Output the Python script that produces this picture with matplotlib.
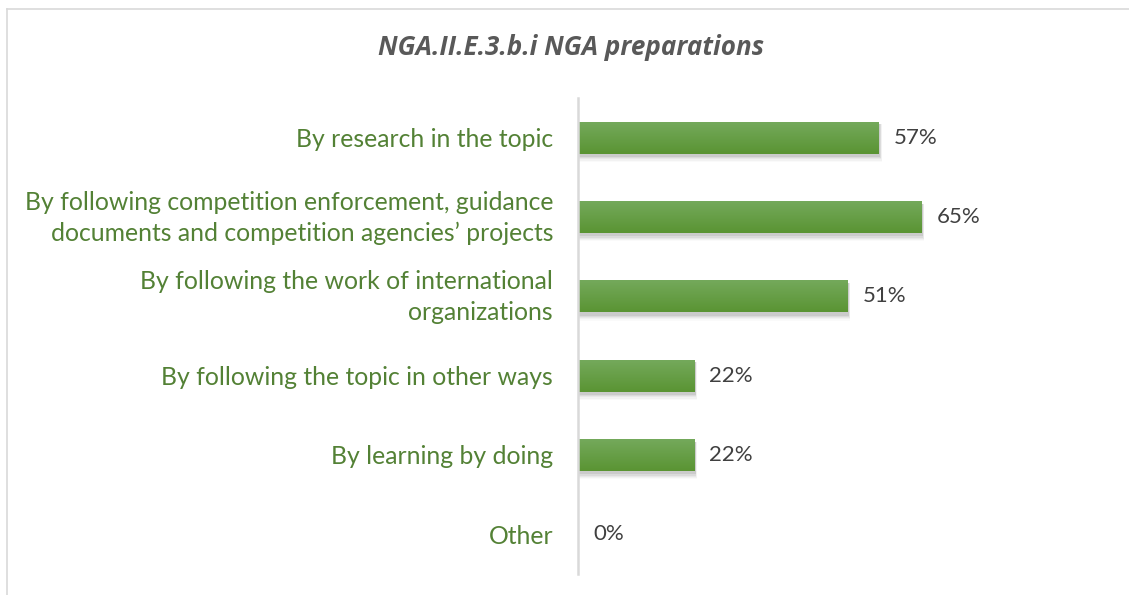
import numpy as np
import matplotlib
matplotlib.use("Agg")
import matplotlib.pyplot as plt
import matplotlib.transforms as mtransforms
from matplotlib.colors import LinearSegmentedColormap
from matplotlib.lines import Line2D
from matplotlib.patches import Rectangle

categories = [
    "By research in the topic",
    "By following competition enforcement, guidance\ndocuments and competition agencies\u2019 projects",
    "By following the work of international\norganizations",
    "By following the topic in other ways",
    "By learning by doing",
    "Other",
]
values = [57, 65, 51, 22, 22, 0]
title = "NGA.II.E.3.b.i NGA preparations"

plt.rcParams["font.family"] = ["Lato", "DejaVu Sans"]

fig = plt.figure(figsize=(11.29, 5.95), dpi=100)
ax = fig.add_axes([0.512, 0.0353, 0.4677, 0.8])

ypos = np.arange(len(categories))
bar_h = 0.4
grad = LinearSegmentedColormap.from_list("g", ["#74a95b", "#5a9433"])
gimg = np.linspace(0, 1, 64).reshape(-1, 1)

for y, v in zip(ypos, values):
    if v > 0:
        # soft drop shadow beneath the bar
        for k, a in enumerate([0.07, 0.05, 0.04, 0.03, 0.02]):
            d = 0.015 * (k + 1)
            ax.add_patch(Rectangle((0, y - bar_h / 2 + 0.03), v + 0.2 + d * 5,
                                   bar_h + d, facecolor="#000000", alpha=a,
                                   edgecolor="none", zorder=1))
        ax.imshow(gimg, cmap=grad, aspect="auto", interpolation="bicubic",
                  extent=(0, v, y + bar_h / 2, y - bar_h / 2), zorder=2)
    ax.text(v + 2.85, y, f"{v}%", va="center", ha="left",
            fontsize=16, color="#404040")

ax.set_xlim(0, 100)
ax.set_ylim(len(categories) - 0.5, -0.5)
ax.set_yticks(ypos)
ax.set_yticklabels(categories, fontsize=17.8, color="#538135",
                   linespacing=1.42)
ax.tick_params(axis="y", length=0, pad=18)
# nudge two-line labels up so both lines sit evenly around the bar
lift = mtransforms.ScaledTranslation(0, 5 / 100, fig.dpi_scale_trans)
for lbl in ax.get_yticklabels():
    if "\n" in lbl.get_text():
        lbl.set_transform(lbl.get_transform() + lift)
ax.set_xticks([])
for s in ["top", "right", "bottom"]:
    ax.spines[s].set_visible(False)
ax.spines["left"].set_color("#d9d9d9")
ax.spines["left"].set_linewidth(1.8)
ax.patch.set_alpha(0)

fig.text(0.506, 0.921, title, ha="center", va="center", fontsize=18.7,
         fontweight="bold", fontstyle="italic", color="#595959",
         family=["Open Sans", "Lato", "DejaVu Sans"])

# chart frame (top and left edges)
W, H = 1129, 595
fig.add_artist(Line2D([7 / W, 1], [1 - 9 / H, 1 - 9 / H], color="#d9d9d9",
                      lw=1.2, transform=fig.transFigure))
fig.add_artist(Line2D([7 / W, 7 / W], [0, 1 - 9 / H], color="#d9d9d9",
                      lw=1.2, transform=fig.transFigure))

fig.savefig("out.png", dpi=100)
